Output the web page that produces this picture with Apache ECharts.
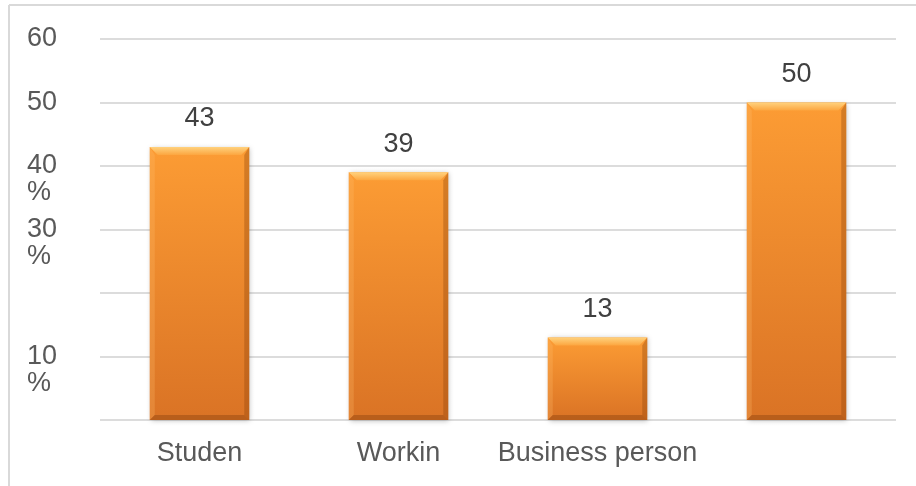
<!DOCTYPE html>
<html>
<head>
<meta charset="utf-8">
<script src="https://cdn.jsdelivr.net/npm/echarts@6/dist/echarts.min.js"></script>
<style>
  html, body { margin: 0; padding: 0; background: #ffffff; }
  #chart { width: 916px; height: 486px; }
</style>
</head>
<body>
<div id="chart"></div>
<script>
// Share of respondents by occupation
const categories = ['Studen', 'Workin', 'Business person', ''];
const shares = [43, 39, 13, 50];
// y-axis labels keyed by tick value / 10 (20 and 0 carry no label)
const yTickLabels = ['', '10\n%', '', '30\n%', '40\n%', '50', '60'];

const FONT = '"Liberation Sans", Arial, sans-serif';
const FONT_SIZE = 27;

// Bevelled orange bar drawn on the cartesian scales
function renderBar(params, api) {
  const idx = api.value(0);
  const v = api.value(1);
  const top = api.coord([idx, v]);
  const base = api.coord([idx, 0]);
  const w = api.size([1, 0])[0] * 0.5;
  const x0 = top[0] - w / 2, x1 = top[0] + w / 2;
  const y0 = top[1], y1 = base[1];
  const b = 8, s = 5;
  return {
    type: 'group',
    children: [
      {
        type: 'rect',
        shape: { x: x0, y: y0, width: w, height: y1 - y0 },
        style: {
          fill: new echarts.graphic.LinearGradient(0, 0, 0, 1, [
            { offset: 0, color: '#fc9c34' },
            { offset: 1, color: '#da7325' }
          ]),
          shadowBlur: 5,
          shadowColor: 'rgba(0,0,0,0.25)',
          shadowOffsetX: 1,
          shadowOffsetY: 1
        }
      },
      {
        type: 'polygon',
        shape: { points: [[x0, y0], [x1, y0], [x1 - b, y0 + b], [x0 + b, y0 + b]] },
        style: {
          fill: new echarts.graphic.LinearGradient(0, 0, 0, 1, [
            { offset: 0, color: '#ffd27e' },
            { offset: 1, color: '#fca640' }
          ])
        }
      },
      {
        type: 'polygon',
        shape: { points: [[x0, y0], [x0 + s, y0 + b], [x0 + s, y1 - s], [x0, y1]] },
        style: { fill: 'rgba(255,190,110,0.25)' }
      },
      {
        type: 'polygon',
        shape: { points: [[x1, y0], [x1, y1], [x1 - s, y1 - s], [x1 - s, y0 + b]] },
        style: { fill: 'rgba(140,65,10,0.35)' }
      },
      {
        type: 'polygon',
        shape: { points: [[x0, y1], [x1, y1], [x1 - s, y1 - s], [x0 + s, y1 - s]] },
        style: { fill: 'rgba(120,55,10,0.35)' }
      },
      {
        type: 'text',
        style: {
          text: String(v),
          x: top[0],
          y: y0 - 28,
          align: 'center',
          verticalAlign: 'middle',
          fill: '#404040',
          font: FONT_SIZE + 'px ' + FONT
        }
      }
    ]
  };
}

const chart = echarts.init(document.getElementById('chart'), null, { renderer: 'canvas' });
chart.setOption({
  animation: false,
  backgroundColor: '#ffffff',
  textStyle: { fontFamily: FONT },
  grid: { left: 100, right: 20, top: 39, bottom: 66, containLabel: false },
  graphic: [
    { type: 'line', shape: { x1: 9, y1: 5, x2: 916, y2: 5 }, style: { stroke: '#d9d9d9', lineWidth: 2 } },
    { type: 'line', shape: { x1: 9, y1: 5, x2: 9, y2: 486 }, style: { stroke: '#d9d9d9', lineWidth: 2 } }
  ],
  xAxis: {
    type: 'category',
    data: categories,
    axisLine: { show: false },
    axisTick: { show: false },
    axisLabel: {
      color: '#595959',
      fontSize: FONT_SIZE,
      fontFamily: FONT,
      margin: 20,
      interval: 0
    }
  },
  yAxis: {
    type: 'value',
    min: 0,
    max: 60,
    interval: 10,
    axisLine: { show: false },
    axisTick: { show: false },
    splitLine: { lineStyle: { color: '#dcdcdc', width: 2 } },
    axisLabel: {
      color: '#595959',
      fontSize: FONT_SIZE,
      fontFamily: FONT,
      align: 'left',
      margin: 73,
      lineHeight: 27,
      showMinLabel: true,
      showMaxLabel: true,
      // two-line labels get a blank line on top so the number sits on the tick
      formatter: function (val) {
        const t = yTickLabels[Math.round(val / 10)] || '';
        return t.indexOf('\n') >= 0 ? ' \n' + t : t;
      }
    }
  },
  series: [{
    type: 'custom',
    renderItem: renderBar,
    encode: { x: 0, y: 1 },
    data: shares.map((v, i) => [i, v])
  }]
});
</script>
</body>
</html>
